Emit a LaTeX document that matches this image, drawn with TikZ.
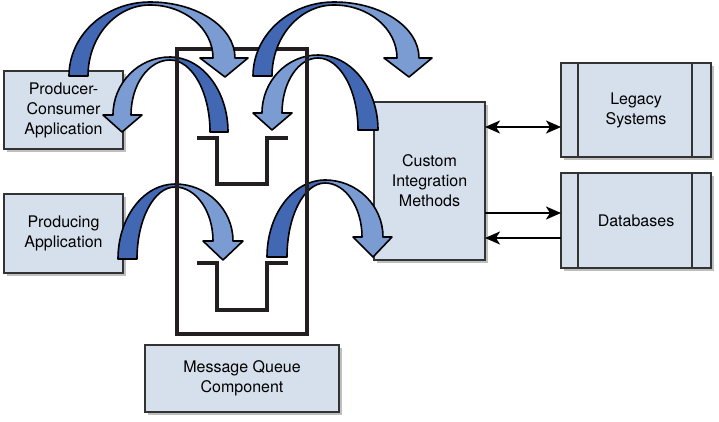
\documentclass[tikz,border=0pt]{standalone}
\usepackage{fontspec}
\setmainfont{TeX Gyre Heros}
\usetikzlibrary{positioning, arrows.meta, shadows}

\definecolor{boxfill}{HTML}{D6E0EC}
\definecolor{ribdark}{HTML}{4268B4}
\definecolor{riblight}{HTML}{7A9CD3}
\definecolor{qline}{HTML}{231F20}
\pgfdeclarehorizontalshading{ribbon}{100bp}{color(0bp)=(ribdark); color(44bp)=(ribdark); color(52bp)=(riblight); color(100bp)=(riblight)}

\begin{document}
\begin{tikzpicture}[
    x=1pt, y=1pt,
    every node/.style = {font=\fontsize{16}{20}\selectfont, align=center},
    app/.style = {rectangle, draw=black!80, line width=1.4pt, fill=boxfill, inner sep=0pt, outer sep=0pt,
                  drop shadow={shadow xshift=3pt, shadow yshift=-3pt, fill=black, opacity=0.25}},
    queuebox/.style = {rectangle, draw=qline, line width=3.5pt, inner sep=0pt, outer sep=0pt},
    queue/.style = {draw=qline, line width=3.5pt},
    flowright/.style = {draw=black, line width=1.6pt, line join=round, shade, shading=ribbon},
    flowleft/.style  = {flowright, shading angle=180},
    conn/.style = {draw=black, line width=2pt},
    >={Stealth[length=15pt, width=13pt, inset=4pt]}
]
\useasboundingbox (0,0) rectangle (719,-421);

% applications
\node[app, minimum width=119, minimum height=78] (pc) at (63.5,-110) {Producer-\\Consumer\\Application};
\node[app, minimum width=119, minimum height=79] (prod) at (63.5,-233.5) {Producing\\Application};
\node[app, minimum width=194, minimum height=67] (mq) at (242,-378.5) {Message Queue\\Component};
\node[app, minimum width=111, minimum height=158] (cim) at (429.5,-181) {Custom\\Integration\\Methods};

% back end systems
\node[app, minimum width=150, minimum height=94] (legacy) at (636,-110) {Legacy\\Systems};
\node[app, minimum width=150, minimum height=95] (db) at (636,-220.5) {Databases};
\foreach \s in {legacy, db} {
    \draw[line width=1.4pt, black!80] ([xshift=17]\s.north west) -- ([xshift=17]\s.south west);
    \draw[line width=1.4pt, black!80] ([xshift=-19]\s.north east) -- ([xshift=-19]\s.south east);
}

% queue with its two slots
\node[queuebox, minimum width=130, minimum height=285] (queue) at (242,-191.5) {};
\draw[queue] (197,-138) -- (217,-138) -- (217,-184) -- (267,-184) -- (267,-138) -- (288,-138);
\draw[queue] (197,-263) -- (217,-263) -- (217,-310) -- (267,-310) -- (267,-263) -- (288,-263);

% curved flows, top row
\draw[flowright] (69,-76)
    arc[start angle=180, end angle=90, x radius=81, y radius=74]
    arc[start angle=90, end angle=0, x radius=85, y radius=56]
    -- (248,-58) -- (225,-77) -- (200,-58) -- (213,-58)
    arc[start angle=0, end angle=90, x radius=63, y radius=53]
    arc[start angle=90, end angle=180, x radius=62, y radius=71] -- cycle;
\draw[flowleft] (228,-132)
    arc[start angle=0, end angle=90, x radius=58, y radius=75]
    arc[start angle=90, end angle=180, x radius=57, y radius=58]
    -- (103,-115) -- (122,-132) -- (142,-115) -- (131,-115)
    arc[start angle=180, end angle=90, x radius=39, y radius=55]
    arc[start angle=90, end angle=0, x radius=40, y radius=72] -- cycle;
\draw[flowright] (253,-76)
    arc[start angle=180, end angle=90, x radius=81, y radius=74]
    arc[start angle=90, end angle=0, x radius=85, y radius=56]
    -- (432,-58) -- (409,-77) -- (384,-58) -- (397,-58)
    arc[start angle=0, end angle=90, x radius=63, y radius=53]
    arc[start angle=90, end angle=180, x radius=62, y radius=71] -- cycle;
\draw[flowleft] (378,-130)
    arc[start angle=0, end angle=90, x radius=60, y radius=75]
    arc[start angle=90, end angle=180, x radius=56, y radius=58]
    -- (253,-113) -- (272,-130) -- (292,-113) -- (282,-113)
    arc[start angle=180, end angle=90, x radius=36, y radius=55]
    arc[start angle=90, end angle=0, x radius=40, y radius=72] -- cycle;

% curved flows, bottom row
\draw[flowright] (118,-259)
    arc[start angle=180, end angle=90, x radius=57, y radius=75]
    arc[start angle=90, end angle=0, x radius=58, y radius=57]
    -- (243,-241) -- (223,-260) -- (203,-241) -- (213,-241)
    arc[start angle=0, end angle=90, x radius=38, y radius=54]
    arc[start angle=90, end angle=180, x radius=38, y radius=72] -- cycle;
\draw[flowright] (267,-257)
    arc[start angle=180, end angle=90, x radius=58, y radius=77]
    arc[start angle=90, end angle=0, x radius=58, y radius=57]
    -- (392,-237) -- (373,-257) -- (353,-237) -- (362,-237)
    arc[start angle=0, end angle=90, x radius=37, y radius=54]
    arc[start angle=90, end angle=180, x radius=38, y radius=74] -- cycle;

% queue sides stay on top of the flows
\draw[queue, line cap=rect] (queue.north west) -- (queue.south west);
\draw[queue, line cap=rect] (queue.north east) -- (queue.south east);

% links to back end
\draw[conn, <->] (cim.east |- 0,-127) -- (legacy.west |- 0,-127);
\draw[conn, ->] (cim.east |- 0,-213) -- (db.west |- 0,-213);
\draw[conn, ->] (db.west |- 0,-238) -- (cim.east |- 0,-238);

\end{tikzpicture}
\end{document}
